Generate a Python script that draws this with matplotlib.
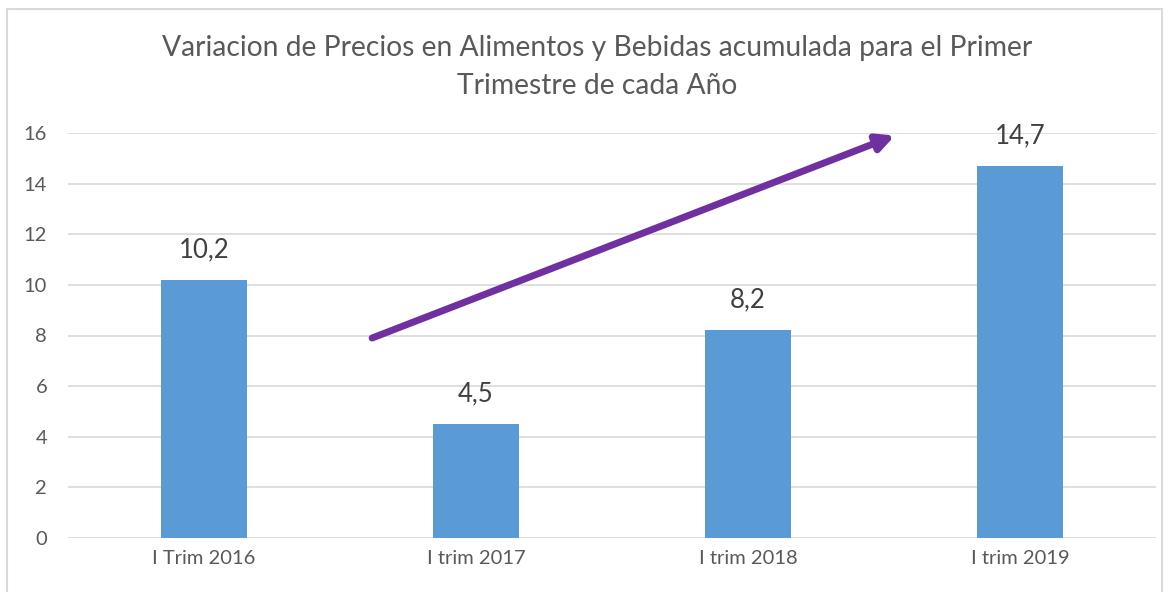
import matplotlib.pyplot as plt
from matplotlib.patches import Rectangle

categorias = ["I Trim 2016", "I trim 2017", "I trim 2018", "I trim 2019"]
valores = [10.2, 4.5, 8.2, 14.7]
etiquetas = ["10,2", "4,5", "8,2", "14,7"]
ticks_y = [0, 2, 4, 6, 8, 10, 12, 14, 16]

plt.rcParams['font.family'] = ['Lato', 'DejaVu Sans']

fig = plt.figure(figsize=(11.69, 5.92), dpi=100)
# borde gris del grafico
fig.patches.append(Rectangle((7 / 1169, -0.01), 1155 / 1169, 1 - 9 / 592 + 0.01,
                             transform=fig.transFigure, fill=False,
                             edgecolor="#d9d9d9", linewidth=1.5))

ax = fig.add_axes([68 / 1169, 1 - 538 / 592, 1088 / 1169, 405 / 592])
x = range(len(categorias))
ax.bar(x, valores, width=0.316, color="#5b9bd5", zorder=2)

for i, (v, t) in enumerate(zip(valores, etiquetas)):
    ax.text(i, v + 0.7, t, ha="center", va="bottom", fontsize=18.5, color="#404040")

ax.set_xlim(-0.5, 3.5)
ax.set_ylim(0, 16)
ax.set_yticks(ticks_y)
ax.set_xticks(list(x))
ax.set_xticklabels(categorias)
ax.tick_params(axis="both", length=0, labelsize=14.5, labelcolor="#595959")
ax.tick_params(axis="x", pad=9)
ax.tick_params(axis="y", pad=15)
ax.grid(axis="y", color="#d9d9d9", linewidth=1.2, zorder=0)
ax.set_axisbelow(True)
for s in ax.spines.values():
    s.set_visible(False)

# flecha de tendencia
ax.annotate("", xy=(2.54, 15.9), xytext=(0.618, 7.9),
            arrowprops=dict(arrowstyle="-|>,head_length=1.0,head_width=0.5",
                            color="#7030a0", lw=5, shrinkA=0, shrinkB=0),
            annotation_clip=False, zorder=3)

fig.text(597 / 1169, 1 - 48 / 592, "Variacion de Precios en Alimentos y Bebidas acumulada para el Primer",
         ha="center", va="center", fontsize=20.3, color="#595959")
fig.text(597 / 1169, 1 - 86 / 592, "Trimestre de cada Año",
         ha="center", va="center", fontsize=20.3, color="#595959")

fig.savefig("out.png", dpi=100)
